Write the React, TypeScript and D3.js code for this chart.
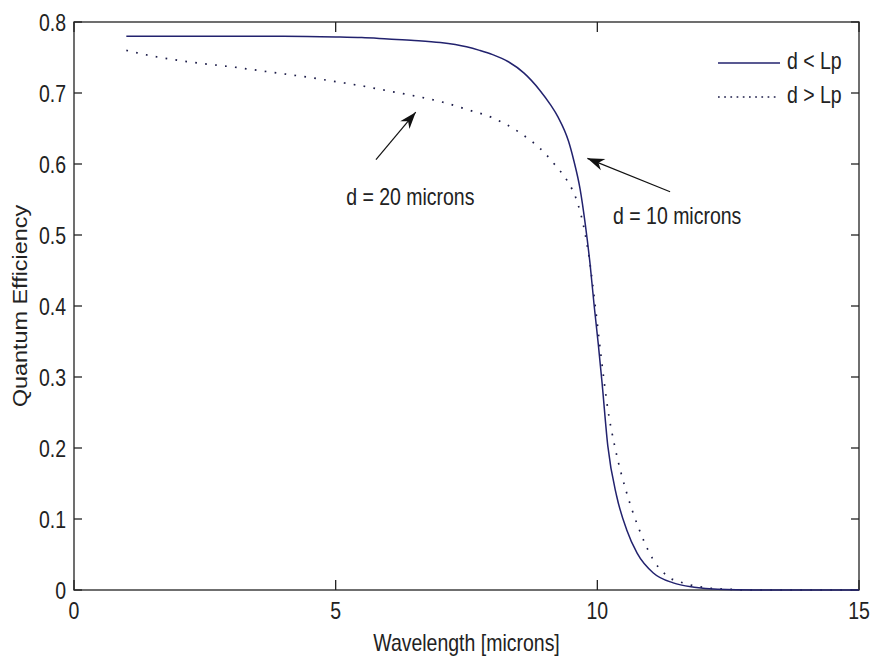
import React, { useRef, useEffect } from 'react'
import * as d3 from 'd3'

// d < Lp (d = 10 microns), solid line
const solidWavelength = [1, 2, 3, 4, 5, 5.5, 6, 6.5, 7, 7.5, 7.75, 8.0, 8.3, 8.6, 8.9, 9.1, 9.25, 9.45, 9.55, 9.67, 9.77, 9.86, 9.94, 10.02, 10.09, 10.2, 10.37, 10.56, 10.76, 11.07, 11.45, 11.85, 12.3, 13, 14, 15]
const solidQE = [0.780, 0.780, 0.780, 0.780, 0.779, 0.778, 0.776, 0.774, 0.771, 0.765, 0.760, 0.754, 0.744, 0.728, 0.704, 0.684, 0.666, 0.632, 0.605, 0.565, 0.515, 0.460, 0.400, 0.345, 0.292, 0.203, 0.132, 0.085, 0.052, 0.024, 0.010, 0.004, 0.001, 0, 0, 0]

// d > Lp (d = 20 microns), dotted line
const dottedWavelength = [1, 1.5, 2, 2.5, 3, 3.5, 4, 4.5, 5, 5.5, 6, 6.5, 7, 7.5, 8, 8.5, 9, 9.2, 9.42, 9.6, 9.73, 9.85, 9.96, 10.07, 10.2, 10.34, 10.56, 10.78, 11.05, 11.33, 11.64, 12.1, 12.5, 13, 14, 15]
const dottedQE = [0.760, 0.752, 0.746, 0.741, 0.737, 0.732, 0.727, 0.722, 0.716, 0.710, 0.703, 0.696, 0.688, 0.677, 0.665, 0.645, 0.615, 0.598, 0.577, 0.550, 0.515, 0.465, 0.400, 0.330, 0.255, 0.200, 0.137, 0.089, 0.045, 0.020, 0.010, 0.003, 0.001, 0, 0, 0]

const xTicks = [0, 5, 10, 15]
const yTicks = [0, 0.1, 0.2, 0.3, 0.4, 0.5, 0.6, 0.7, 0.8]
const legendLabels = ['d < Lp', 'd > Lp']
const notes = [
  { text: 'd = 20 microns', at: [5.2, 0.542], from: [5.77, 0.606], to: [6.53, 0.673] },
  { text: 'd = 10 microns', at: [10.3, 0.516], from: [11.39, 0.561], to: [9.81, 0.608] }
]

const FONT = '"Liberation Sans", Arial, Helvetica, sans-serif'
const FS = 19.5
const INK = '#222'
const SOLID = '#22226e'
const DOTS = '#1c1c48'

const App = () => {
  const chart = useRef<SVGSVGElement>(null)
  const dims = { width: 872, height: 662 }
  const plot = { left: 74, right: 859, top: 22, bottom: 590 }

  useEffect(() => {
    const svg = d3.select(chart.current)
    svg.selectAll('*').remove()

    const x = d3.scaleLinear().domain([0, 15]).range([plot.left, plot.right])
    const y = d3.scaleLinear().domain([0, 0.8]).range([plot.bottom, plot.top])

    // text is a bit taller than wide in the picture
    const label = (px: number, py: number, str: string, anchor: string) => {
      svg.append('g')
        .attr('transform', `translate(${px},${py}) scale(1,1.2)`)
        .append('text')
        .attr('text-anchor', anchor)
        .attr('font-family', FONT)
        .attr('font-size', FS)
        .attr('fill', INK)
        .text(str)
    }

    // axes box with inward ticks on all four sides
    svg.append('rect')
      .attr('x', plot.left).attr('y', plot.top)
      .attr('width', plot.right - plot.left).attr('height', plot.bottom - plot.top)
      .attr('fill', 'none').attr('stroke', INK).attr('stroke-width', 1.3)

    const ticks = svg.append('g').attr('stroke', INK).attr('stroke-width', 1.3)
    xTicks.forEach(t => {
      ticks.append('line').attr('x1', x(t)).attr('x2', x(t)).attr('y1', plot.bottom).attr('y2', plot.bottom - 10)
      ticks.append('line').attr('x1', x(t)).attr('x2', x(t)).attr('y1', plot.top).attr('y2', plot.top + 10)
      label(x(t), 619, String(t), 'middle')
    })
    yTicks.forEach(t => {
      ticks.append('line').attr('x1', plot.left).attr('x2', plot.left + 8).attr('y1', y(t)).attr('y2', y(t))
      ticks.append('line').attr('x1', plot.right).attr('x2', plot.right - 8).attr('y1', y(t)).attr('y2', y(t))
      label(66, y(t) + 8.5, String(t), 'end')
    })

    label((plot.left + plot.right) / 2, 651, 'Wavelength [microns]', 'middle')
    svg.append('g')
      .attr('transform', `translate(27,${(plot.top + plot.bottom) / 2}) rotate(-90) scale(1.2,1)`)
      .append('text')
      .attr('text-anchor', 'middle')
      .attr('font-family', FONT)
      .attr('font-size', FS)
      .attr('fill', INK)
      .text('Quantum Efficiency')

    const line = d3.line<number>()
      .x(d => x(d))
      .curve(d3.curveMonotoneX)

    svg.append('path')
      .attr('d', line.y((d, i) => y(dottedQE[i]))(dottedWavelength))
      .attr('fill', 'none')
      .attr('stroke', DOTS)
      .attr('stroke-width', 1.7)
      .attr('stroke-dasharray', '1.7,8.3')

    svg.append('path')
      .attr('d', line.y((d, i) => y(solidQE[i]))(solidWavelength))
      .attr('fill', 'none')
      .attr('stroke', SOLID)
      .attr('stroke-width', 1.5)

    // legend, no box
    const legend = svg.append('g')
    legendLabels.forEach((name, i) => {
      const ly = 63 + i * 34
      legend.append('line')
        .attr('x1', 718).attr('x2', 780).attr('y1', ly).attr('y2', ly)
        .attr('stroke', i === 0 ? SOLID : DOTS)
        .attr('stroke-width', i === 0 ? 1.5 : 1.7)
        .attr('stroke-dasharray', i === 0 ? null : '1.7,4.5')
      label(787, ly + 6, name, 'start')
    })

    // annotations with filled arrowheads
    notes.forEach(n => {
      const x1 = x(n.from[0]), y1 = y(n.from[1])
      const x2 = x(n.to[0]), y2 = y(n.to[1])
      svg.append('line')
        .attr('x1', x1).attr('y1', y1).attr('x2', x2).attr('y2', y2)
        .attr('stroke', '#111').attr('stroke-width', 1.2)
      const ang = Math.atan2(y2 - y1, x2 - x1)
      const ux = Math.cos(ang), uy = Math.sin(ang)
      const len = 17, half = 6
      const bx = x2 - ux * len, by = y2 - uy * len
      const nx = x2 - ux * len * 0.7, ny = y2 - uy * len * 0.7
      svg.append('path')
        .attr('d', `M${x2},${y2}L${bx - uy * half},${by + ux * half}L${nx},${ny}L${bx + uy * half},${by - ux * half}Z`)
        .attr('fill', '#111')
      label(x(n.at[0]), y(n.at[1]), n.text, 'start')
    })
  })

  return (
    <div id="chartArea">
      <svg ref={chart} width={dims.width} height={dims.height}
        style={{ position: 'absolute', left: 0, top: 0, background: '#fff' }}></svg>
    </div>
  )
}

export default App
